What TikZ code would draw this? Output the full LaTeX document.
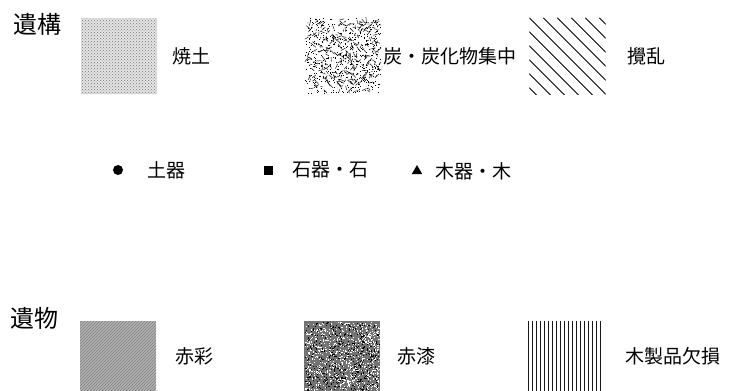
\documentclass[tikz,border=0pt]{standalone}
\usepackage{fontspec}
\newfontfamily\cjk{Noto Sans CJK JP}
\usepackage{tikz}
\usetikzlibrary{patterns,positioning,calc,shapes.geometric}
\tikzstyle{swatch}=[rectangle,minimum width=76pt,minimum height=76pt,inner sep=0pt]
\tikzstyle{legend text}=[font=\cjk\fontsize{19}{19}\selectfont,inner sep=0pt]
\tikzstyle{heading}=[font=\cjk\fontsize{24}{24}\selectfont,inner sep=0pt]
\tikzstyle{marker}=[fill=black,inner sep=0pt]

\begin{document}
\begin{tikzpicture}[x=1pt,y=-1pt]
  \useasboundingbox (0,0) rectangle (729,391);
  \pgfmathsetseed{11}

  % 遺構
  \node[heading] (ikou) at (37,24) {遺構};

  \node[swatch, fill=black!10, postaction={pattern=crosshatch dots, pattern color=black!55}] (yakudo) at (119,56) {};
  \node[legend text, right=15pt of yakudo] (yakudo text) {焼土};

  \node[swatch] (sumi) at (343,56) {};
  \begin{scope}
    \clip (sumi.north west) rectangle (sumi.south east);
    \begin{scope}[shift={(sumi)}]
      \foreach \i in {1,...,300}
        \draw[line width=0.45pt] (rand*36,rand*36) -- ++(rand*5,rand*5);
      \foreach \i in {1,...,450}
        \fill (rand*38,rand*38) rectangle ++(1,1);
    \end{scope}
  \end{scope}
  \node[legend text, right=2pt of sumi] (sumi text) {炭・炭化物集中};

  \node[swatch] (kakuran) at (567.5,56) {};
  \begin{scope}
    \clip (kakuran.north west) rectangle (kakuran.south east);
    \foreach \d in {-70,-56,...,70}
      \draw[line width=0.8pt] ($(kakuran.north west)+(\d,0)$) -- +(80,80);
  \end{scope}
  \node[legend text, right=22pt of kakuran] (kakuran text) {攪乱};

  % markers
  \node[marker, circle, minimum size=10pt] (doki mark) at (118,170) {};
  \node[legend text, right=24pt of doki mark] (doki) {土器};
  \node[marker, rectangle, minimum size=9pt] (sekki mark) at (268,170) {};
  \node[legend text, right=19.5pt of sekki mark] (sekki) {石器・石};
  \node[marker, regular polygon, regular polygon sides=3, minimum size=12pt] (mokki mark) at (417,171) {};
  \node[legend text, right=15pt of mokki mark] (mokki) {木器・木};

  % 遺物
  \node[heading] (ibutsu) at (34,318) {遺物};

  \node[swatch, minimum height=70pt, fill=black!30,
        postaction={pattern=north east lines, pattern color=black!50}] (sekisai) at (118,356) {};
  \node[legend text, right=19pt of sekisai] (sekisai text) {赤彩};

  \node[swatch, minimum height=70pt, fill=black!55] (sekishitsu) at (342,356) {};
  \begin{scope}[shift={(sekishitsu)}]
    \foreach \i in {1,...,800}
      \fill[white] (rand*37,rand*34) rectangle ++(1.1,1.1);
    \foreach \i in {1,...,500}
      \fill[black] (rand*37,rand*34) rectangle ++(1.1,1.1);
  \end{scope}
  \node[legend text, right=17pt of sekishitsu] (sekishitsu text) {赤漆};

  \node[swatch, minimum height=70pt] (mokusei) at (565.5,356) {};
  \foreach \x in {0,4,...,72}
    \draw[line width=1.2pt, black!90] ($(mokusei.north west)+(\x+1,0)$) -- ($(mokusei.south west)+(\x+1,0)$);
  \node[legend text, right=22pt of mokusei] (mokusei text) {木製品欠損};
\end{tikzpicture}
\end{document}
